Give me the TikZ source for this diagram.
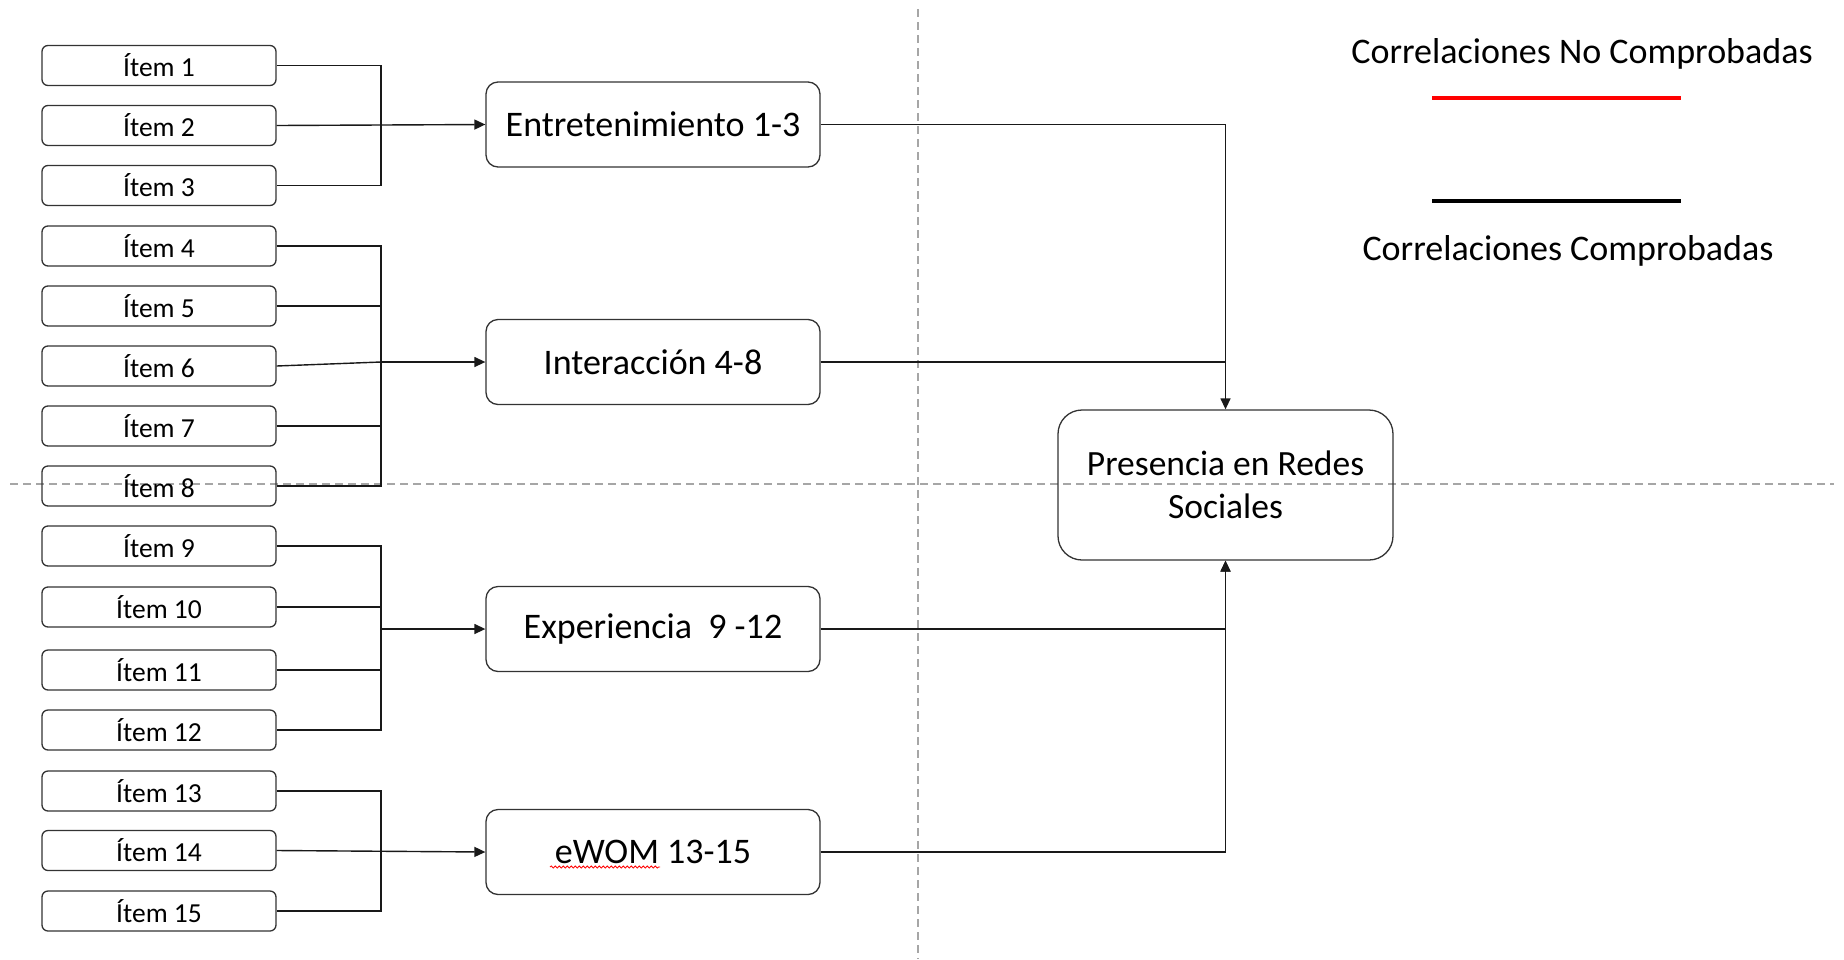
\documentclass[tikz,border=0pt]{standalone}
\usepackage{fontspec}
\setmainfont{Carlito}
\usetikzlibrary{arrows.meta,decorations.pathmorphing}

\begin{document}
\begin{tikzpicture}[x=1pt,y=-1pt,
  itembox/.style={draw=black!80, line width=1.3pt, rounded corners=6pt,
    minimum width=234pt, minimum height=40pt, inner sep=0pt,
    font=\fontsize{27.5}{30}\selectfont},
  factor/.style={draw=black!80, line width=1.3pt, rounded corners=12pt,
    minimum width=334pt, minimum height=85pt, inner sep=0pt,
    font=\fontsize{36}{40}\selectfont},
  outcome/.style={draw=black!80, line width=1.3pt, rounded corners=24pt,
    minimum width=335pt, minimum height=150pt, inner sep=0pt, align=center,
    font=\fontsize{35.5}{43}\selectfont},
  legendtext/.style={anchor=base, inner sep=0pt, font=\fontsize{36}{40}\selectfont},
  link/.style={line width=1.4pt, black!90},
  tip/.style={link, -{Triangle[length=11pt,width=10pt]}},
  guide/.style={black!35, dash pattern=on 8pt off 5pt, line width=1.2pt}]

\useasboundingbox (0,0) rectangle (1844,959);

% quadrant guides
\coordinate (gv1) at (918,9);
\coordinate (gv2) at (918,959);
\coordinate (gh1) at (10,484);
\coordinate (gh2) at (1834,484);
\draw[guide] (gv1) -- (gv2);
\draw[guide] (gh1) -- (gh2);

% questionnaire items
\foreach \n/\y in {1/65.5, 2/125.5, 3/185.5, 4/246, 5/306, 6/366, 7/426, 8/486,
                   9/546, 10/607, 11/670, 12/730, 13/791, 14/850.5, 15/911}
  \node[itembox] (i\n) at (159,\y) {Ítem \n};

% factors
\node[factor] (ent)   at (653,124.5) {Entretenimiento 1-3};
\node[factor] (inter) at (653,362)   {Interacción 4-8};
\node[factor] (exp)   at (653,629)   {Experiencia\ \ 9 -12};
\node[factor] (ewom)  at (653,852)   {eWOM 13-15};

% spell-check underline under eWOM
\draw[red, line width=0.8pt, decorate,
      decoration={snake, segment length=4pt, amplitude=1.1pt}]
  ([xshift=-103pt,yshift=-15pt]ewom.center) -- ([xshift=7pt,yshift=-15pt]ewom.center);

% outcome
\node[outcome] (pres) at (1225.5,485) {Presencia en Redes\\Sociales};

% item brackets
\coordinate (b1) at (381,125.5);
\coordinate (b2) at (381,362);
\coordinate (b3) at (381,629);
\coordinate (b4) at (381,850.5);

\draw[link] (i1.east) -| (b1) |- (i3.east);
\draw[tip] (i2.east) -- (ent.west);

\draw[link] (i4.east) -| (b2) |- (i8.east);
\draw[link] (i5.east) -- (i5.east -| b2);
\draw[link] (i7.east) -- (i7.east -| b2);
\draw[link] (i6.east) -- (b2);
\draw[tip] (b2) -- (inter.west);

\draw[link] (i9.east) -| (b3) |- (i12.east);
\draw[link] (i10.east) -- (i10.east -| b3);
\draw[link] (i11.east) -- (i11.east -| b3);
\draw[tip] (b3) -- (exp.west);

\draw[link] (i13.east) -| (b4) |- (i15.east);
\draw[tip] (i14.east) -- (ewom.west);

% factors to outcome
\draw[tip] (ent.east) -| (pres.north);
\draw[link] (inter.east) -- (inter.east -| pres.north);
\draw[tip] (exp.east) -| (pres.south);
\draw[tip] (ewom.east) -| (pres.south);

% legend
\node[legendtext] (l1) at (1582,63) {Correlaciones No Comprobadas};
\coordinate (r1) at (1432,98);
\coordinate (r2) at (1681,98);
\draw[red, line width=4.5pt] (r1) -- (r2);
\coordinate (k1) at (1432,201);
\coordinate (k2) at (1681,201);
\draw[black, line width=4.5pt] (k1) -- (k2);
\node[legendtext] (l2) at (1568,260) {Correlaciones Comprobadas};

\end{tikzpicture}
\end{document}
